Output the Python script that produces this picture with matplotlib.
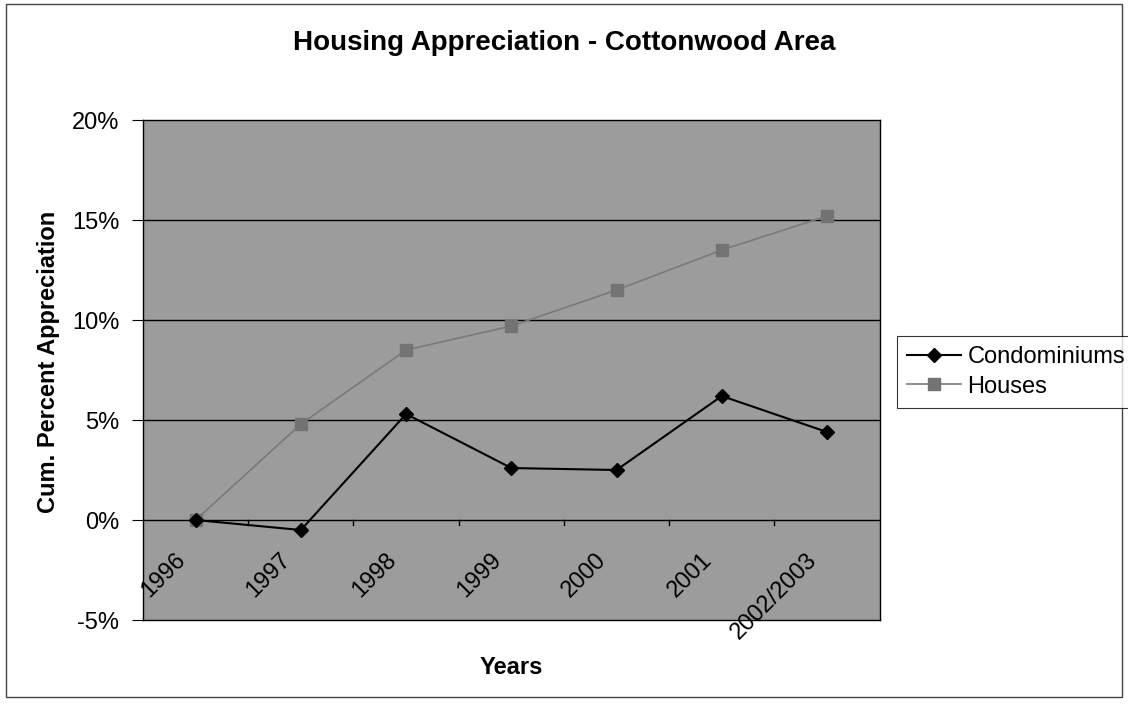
import numpy as np
import matplotlib
matplotlib.use("Agg")
import matplotlib.pyplot as plt
from matplotlib.patches import Rectangle
from matplotlib.ticker import FuncFormatter

plt.rcParams['font.family'] = ['Liberation Sans', 'DejaVu Sans']

years = ["1996", "1997", "1998", "1999", "2000", "2001", "2002/2003"]
condos = [0.0, -0.5, 5.3, 2.6, 2.5, 6.2, 4.4]
houses = [0.0, 4.8, 8.5, 9.7, 11.5, 13.5, 15.2]
y_ticks = [-5, 0, 5, 10, 15, 20]

fig = plt.figure(figsize=(11.28, 7.04), dpi=100)
fig.patches.append(Rectangle((0.005, 0.01), 0.99, 0.985, transform=fig.transFigure,
                             fill=False, edgecolor="#444444", linewidth=1.0))

ax = fig.add_axes([0.1268, 0.1193, 0.653, 0.7102])
ax.set_facecolor("#9c9c9c")
x = np.arange(len(years))

ax.plot(x, houses, color="#7a7a7a", linewidth=1.2, marker="s", markersize=8,
        markerfacecolor="#737373", markeredgecolor="#737373", label="Houses", zorder=3)
ax.plot(x, condos, color="black", linewidth=1.5, marker="D", markersize=7,
        markerfacecolor="black", markeredgecolor="black", label="Condominiums", zorder=4)

ax.set_xlim(-0.5, len(years) - 0.5)
ax.set_ylim(-5, 20)
ax.set_yticks(y_ticks)
ax.yaxis.set_major_formatter(FuncFormatter(lambda v, p: "%d%%" % v))
for v in y_ticks:
    if v not in (-5, 20):
        ax.axhline(v, color="black", linewidth=1.0, zorder=1)

for s in ax.spines.values():
    s.set_color("black")
    s.set_linewidth(1.0)

# category labels hang below the zero line, tick marks between categories
ax.set_xticks([])
for i, lab in enumerate(years):
    ax.annotate(lab, xy=(i, 0), xycoords="data", xytext=(-4, -21), textcoords="offset points",
                rotation=45, ha="right", va="top", fontsize=17)
for b in np.arange(0.5, len(years) - 1, 1.0):
    ax.plot([b, b], [0, -0.25], color="black", linewidth=1.0, zorder=2)

ax.tick_params(axis="y", length=8, direction="out", labelsize=17, pad=9)

ax.set_xlabel("Years", fontsize=17, fontweight="bold")
ax.xaxis.set_label_coords(0.5, -0.072)
ax.set_ylabel("Cum. Percent Appreciation", fontsize=17, fontweight="bold")
ax.yaxis.set_label_coords(-0.129, 0.516)
ax.yaxis.label.set_va("center")
fig.suptitle("Housing Appreciation - Cottonwood Area", fontsize=20, fontweight="bold", y=0.957)

h, l = ax.get_legend_handles_labels()
leg = fig.legend(h[::-1], l[::-1], loc="center left", bbox_to_anchor=(0.795, 0.4716),
                 fontsize=17, frameon=True, fancybox=False, handlelength=2.25,
                 handletextpad=0.3, borderpad=0.45, labelspacing=0.3, borderaxespad=0)
leg.get_frame().set_edgecolor("black")
leg.get_frame().set_linewidth(0.8)

fig.savefig("out.png", dpi=100)
